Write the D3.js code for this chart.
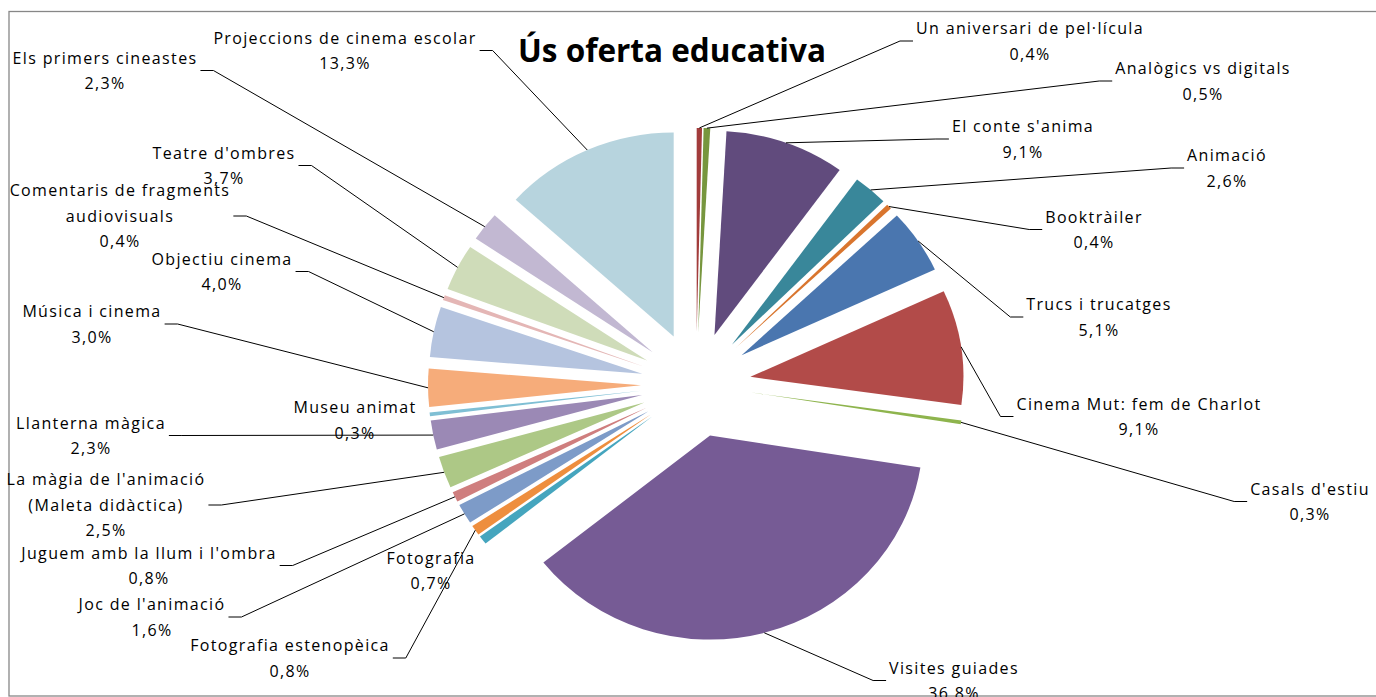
<!DOCTYPE html>
<html>
<head>
<meta charset="utf-8">
<script src="https://cdn.jsdelivr.net/npm/d3@7"></script>
<style>
  body { margin: 0; background: #fff; }
  svg { display: block; }
  .etiqueta { font-family: "Open Sans", sans-serif; font-size: 16px; letter-spacing: 1.35px; fill: #000; }
  .titulo { font-family: "Open Sans", sans-serif; font-weight: bold; font-size: 31.5px; fill: #000; }
  .guia { fill: none; stroke: #000; stroke-width: 1; }
</style>
</head>
<body>
<div id="grafica"></div>
<script>
/* DATOS: en el orden de las agujas del reloj, empezando a las 12 */
var categorias = [
  "Un aniversari de pel·lícula", "Analògics vs digitals", "El conte s'anima", "Animació",
  "Booktràiler", "Trucs i trucatges", "Cinema Mut: fem de Charlot", "Casals d'estiu",
  "Visites guiades", "Fotografia", "Fotografia estenopèica", "Joc de l'animació",
  "Juguem amb la llum i l'ombra", "La màgia de l'animació (Maleta didàctica)", "Llanterna màgica",
  "Museu animat", "Música i cinema", "Objectiu cinema", "Comentaris de fragments audiovisuals",
  "Teatre d'ombres", "Els primers cineastes", "Projeccions de cinema escolar"
];
var valores = [0.4, 0.5, 9.1, 2.6, 0.4, 5.1, 9.1, 0.3, 36.8, 0.7, 0.8, 1.6,
               0.8, 2.5, 2.3, 0.3, 3.0, 4.0, 0.4, 3.7, 2.3, 13.3];
var colores = [
  "#a23c3b", "#77963e", "#614b7d", "#39879a", "#d9752e", "#4a76af", "#b24b49", "#8eb44d",
  "#765b95", "#45a5be", "#ee8e3e", "#7d9bc8", "#cf7e7e", "#adc886", "#9b89b5",
  "#7fbfd4", "#f6ac7a", "#b5c4df", "#e4b6b5", "#cfdcb9", "#c2b8d2", "#b7d4de"
];

// Cortes de linea de las etiquetas largas
var cortes = {
  "La màgia de l'animació (Maleta didàctica)": ["La màgia de l'animació", "(Maleta didàctica)"],
  "Comentaris de fragments audiovisuals": ["Comentaris de fragments", "audiovisuals"]
};
// Etiquetas que van pegadas al sector, sin linea guia
var sinGuia = ["Fotografia", "Museu animat"];

// Posicion (centro del bloque) de cada etiqueta, como en el original
var etiquetaX = [1030, 1203, 1023, 1227, 1094, 1099, 1139, 1310, 954, 431, 290, 152,
                 149, 106, 91, 355, 92, 222, 120, 224, 105, 345];
var etiquetaY = [41, 81, 139, 168, 229.5, 317, 416.5, 501.5, 680.5, 570.5, 658, 617,
                 565.5, 505, 435.5, 420, 324, 271.5, 216, 165.5, 70.5, 50.5];

function graficaPastel(target) {
  var w = 1376, h = 697;
  var centro = { x: 696, y: 384.6 },
      rx = 213, ry = 204,           // el pastel sale un poco aplastado
      esc = ry / rx,
      separa = 55,                  // explosion de los sectores
      altoLinea = 25.5;

  var fmt = d3.formatLocale({ decimal: ",", thousands: ".", grouping: [3], currency: ["", "€"] }).format(".1%");

  var svg = d3.select(target).append("svg")
      .attr("width", w)
      .attr("height", h);

  // Marco del grafico (se sale por la derecha)
  svg.append("rect")
      .attr("x", 9).attr("y", 11.5)
      .attr("width", 1390).attr("height", 684.5)
      .attr("fill", "none")
      .attr("stroke", "#878787")
      .attr("stroke-width", 1.3);

  // Titulo
  svg.append("text")
      .attr("class", "titulo")
      .attr("x", 672).attr("y", 62)
      .attr("text-anchor", "middle")
      .text("Ús oferta educativa");

  var pie = d3.pie()
      .sort(null)
      .value(function(i) { return valores[i]; });
  var arcos = pie(d3.range(valores.length));
  var total = d3.sum(valores);

  var arco = d3.arc().innerRadius(0).outerRadius(rx);

  // desplazamiento de cada sector y punto del borde donde arranca la guia
  arcos.forEach(function(d) {
    var m = (d.startAngle + d.endAngle) / 2;
    d.dx = centro.x + separa * Math.sin(m);
    d.dy = centro.y - separa * Math.cos(m) * esc;
    d.bx = d.dx + rx * Math.sin(m);
    d.by = d.dy - ry * Math.cos(m);
  });

  var sectores = svg.append("g").attr("class", "sectores");
  sectores.selectAll("path")
      .data(arcos)
      .enter()
      .append("path")
        .attr("transform", function(d) { return translation(d.dx, d.dy) + " scale(1," + esc + ")"; })
        .attr("d", arco)
        .attr("fill", function(d) { return colores[d.data]; });

  // Etiquetas
  var capaGuias = svg.append("g");
  var capaTextos = svg.append("g");

  arcos.forEach(function(d) {
    var i = d.data,
        nombre = categorias[i],
        lineas = (cortes[nombre] || [nombre]).concat([fmt(valores[i] / total)]),
        x = etiquetaX[i],
        y0 = etiquetaY[i] - (lineas.length - 1) * altoLinea / 2;

    var t = capaTextos.append("text")
        .attr("class", "etiqueta")
        .attr("text-anchor", "middle");
    lineas.forEach(function(l, k) {
      t.append("tspan")
        .attr("x", x)
        .attr("y", y0 + k * altoLinea)
        .attr("dy", "0.36em")
        .text(l);
    });

    if (sinGuia.indexOf(nombre) >= 0) return;

    var caja = t.node().getBBox(),
        ym = etiquetaY[i],
        fin, codo;
    if (x > d.bx) {
      fin = caja.x - 3;  codo = fin - 13;
    } else {
      fin = caja.x + caja.width + 3;  codo = fin + 13;
    }
    capaGuias.append("path")
        .attr("class", "guia")
        .attr("d", "M" + d.bx + "," + d.by + "L" + codo + "," + ym + "L" + fin + "," + ym);
  });

  /* FUNCIONES DE AYUDA */
  function translation(x, y) {
    return 'translate(' + x + ',' + y + ')';
  }
}

graficaPastel("#grafica");
</script>
</body>
</html>
